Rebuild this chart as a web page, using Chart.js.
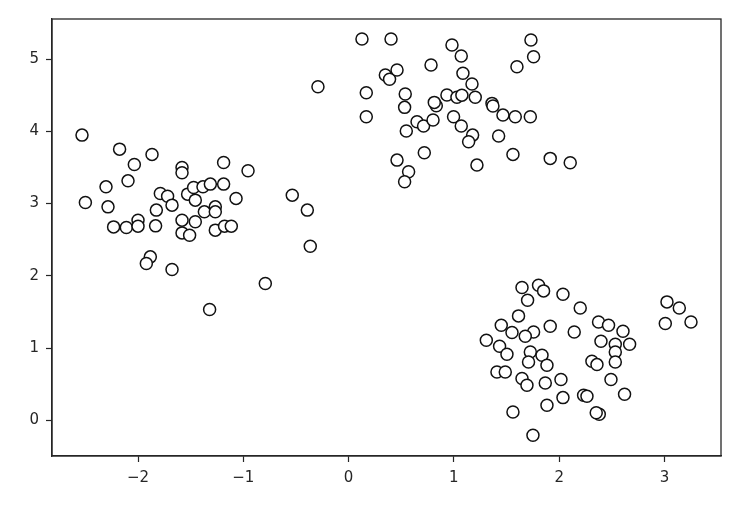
<!DOCTYPE html>
<html>
<head>
<meta charset="utf-8">
<script src="https://cdn.jsdelivr.net/npm/chart.js@4/dist/chart.umd.min.js"></script>
<style>
  html, body { margin: 0; padding: 0; background: #fff; }
  #wrap { width: 740px; height: 510px; }
</style>
</head>
<body>
<div id="wrap"><canvas id="scatter" width="740" height="510"></canvas></div>
<script>
(function(){
  'use strict';

  // ---- Datos ----
  const blobA_x = [-2.532,-2.175,-1.867,-2.035,-1.582,-1.582,-1.187,-0.955,-2.304,-2.095,-2.500,-2.285,-2.232,-2.111,-2.000,-2.000,-1.826,-1.833,-1.788,-1.719,-1.677,-1.529,-1.456,-1.472,-1.383,-1.313,-1.187,-1.069,-1.370,-1.266,-1.266,-1.582,-1.456,-1.582,-1.510,-1.266,-1.178,-1.114,-1.883,-1.921,-1.677,-0.791,-1.320,-0.535,-0.392,-0.364];
  const blobA_y = [3.947,3.753,3.680,3.541,3.500,3.425,3.569,3.453,3.231,3.314,3.015,2.954,2.677,2.669,2.770,2.687,2.909,2.691,3.140,3.102,2.978,3.130,3.047,3.223,3.231,3.269,3.269,3.071,2.885,2.954,2.885,2.770,2.747,2.594,2.562,2.632,2.687,2.687,2.262,2.170,2.087,1.893,1.533,3.116,2.909,2.410];

  const blobB_x = [0.127,0.403,-0.291,0.168,0.168,0.349,0.389,0.460,0.783,0.538,0.532,0.548,0.650,0.712,0.802,0.833,0.814,0.934,1.029,0.997,1.070,0.719,0.460,0.570,0.532,0.982,1.070,1.086,1.172,1.076,1.203,1.362,1.371,1.466,1.583,1.726,1.178,1.140,1.425,1.561,1.219,1.915,2.105,1.732,1.757,1.599];
  const blobB_y = [5.277,5.277,4.616,4.533,4.201,4.778,4.719,4.848,4.917,4.515,4.331,4.003,4.132,4.072,4.155,4.353,4.400,4.501,4.470,4.201,4.072,3.702,3.601,3.439,3.301,5.194,5.042,4.802,4.654,4.500,4.470,4.386,4.349,4.224,4.201,4.201,3.947,3.855,3.934,3.680,3.532,3.625,3.564,5.263,5.032,4.893];

  const blobC_x = [1.647,1.804,1.852,1.700,2.036,2.200,1.614,1.450,1.552,1.757,1.678,1.915,2.143,1.308,1.434,1.504,1.726,1.837,1.709,1.884,1.409,1.488,1.647,1.694,1.868,2.017,2.036,1.884,1.561,1.751,2.232,2.264,2.374,2.469,2.606,2.397,2.533,2.669,2.533,2.311,2.359,2.533,2.492,2.621,2.381,2.352,3.024,3.141,3.008,3.252];
  const blobC_y = [1.838,1.870,1.791,1.662,1.745,1.555,1.445,1.316,1.215,1.223,1.163,1.302,1.223,1.108,1.025,0.914,0.946,0.900,0.807,0.762,0.669,0.669,0.578,0.485,0.517,0.564,0.314,0.208,0.115,-0.208,0.346,0.332,1.361,1.316,1.233,1.094,1.053,1.053,0.946,0.817,0.771,0.807,0.564,0.360,0.083,0.104,1.639,1.555,1.339,1.361];

  const xTicks = [-2, -1, 0, 1, 2, 3];
  const yTicks = [0, 1, 2, 3, 4, 5];

  const toPts = (xs, ys) => xs.map((x, i) => ({ x, y: ys[i] }));
  const fmtTick = (v) => (v < 0 ? '\u2212' + Math.abs(v) : String(v));

  const INK = '#262626';
  const tickFont = { family: 'DejaVu Sans', size: 15 };

  const blobStyle = {
    pointStyle: 'circle',
    pointRadius: 6,
    pointHoverRadius: 6,
    pointBorderWidth: 1.5,
    pointBorderColor: '#111',
    pointBackgroundColor: '#fff',
    showLine: false
  };

  // Marco completo (arriba y derecha también)
  const framePlugin = {
    id: 'frame',
    beforeDatasetsDraw(chart){
      const a = chart.chartArea, c = chart.ctx;
      c.save();
      c.strokeStyle = INK;
      c.lineWidth = 1.3;
      c.strokeRect(a.left, a.top, a.right - a.left, a.bottom - a.top);
      c.restore();
    }
  };

  const axisCommon = (ticks, fitFn) => ({
    type: 'linear',
    afterBuildTicks: (s) => { s.ticks = ticks.map(v => ({ value: v })); },
    afterFit: fitFn,
    ticks: { font: tickFont, color: INK, padding: 7, callback: fmtTick },
    grid: { drawOnChartArea: false, drawTicks: true, tickLength: 6, tickWidth: 1.2, color: INK },
    border: { display: true, color: INK, width: 1.3 }
  });

  const canvas = document.getElementById('scatter');
  new Chart(canvas.getContext('2d'), {
    type: 'scatter',
    data: {
      datasets: [
        Object.assign({ label: 'A', data: toPts(blobA_x, blobA_y) }, blobStyle),
        Object.assign({ label: 'B', data: toPts(blobB_x, blobB_y) }, blobStyle),
        Object.assign({ label: 'C', data: toPts(blobC_x, blobC_y) }, blobStyle)
      ]
    },
    options: {
      responsive: false,
      animation: false,
      devicePixelRatio: 1,
      layout: { padding: { left: 0, right: 19, top: 19, bottom: 0 } },
      scales: {
        x: Object.assign(axisCommon(xTicks, (s) => { s.height = 54; }), { min: -2.817, max: 3.537 }),
        y: Object.assign(axisCommon(yTicks, (s) => { s.width = 52; }), { min: -0.494, max: 5.554 })
      },
      plugins: {
        legend: { display: false },
        tooltip: { enabled: false }
      }
    },
    plugins: [framePlugin]
  });
})();
</script>
</body>
</html>
